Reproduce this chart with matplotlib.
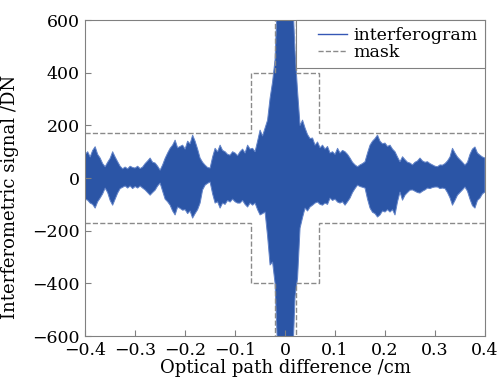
import numpy as np
import matplotlib
matplotlib.use("Agg")
import matplotlib.pyplot as plt
from matplotlib.lines import Line2D
from matplotlib.legend_handler import HandlerLine2D

plt.rcParams['font.family'] = ['DejaVu Serif']

# envelope of the interferogram, every 0.005 cm from -0.4 to 0.4
opd = np.round(np.arange(-0.400, 0.4001, 0.005), 3)
sig_top = [90, 100, 80, 105, 119, 90, 76, 55, 43, 60,
           75, 100, 80, 62, 45, 35, 42, 35, 45, 40,
           38, 45, 36, 42, 55, 65, 76, 60, 57, 45,
           30, 50, 75, 95, 113, 125, 144, 115, 120, 125,
           110, 140, 130, 163, 140, 110, 76, 60, 49, 40,
           38, 80, 113, 100, 125, 105, 100, 90, 87, 100,
           95, 85, 100, 110, 95, 125, 110, 113, 100, 140,
           182, 160, 190, 220, 303, 365, 450, 700, 800, 900,
           900, 900, 800, 700, 480, 330, 200, 220, 190, 165,
           150, 152, 125, 137, 115, 125, 110, 120, 95, 100,
           90, 113, 95, 105, 100, 90, 76, 60, 50, 43,
           50, 55, 62, 95, 125, 140, 150, 163, 140, 130,
           133, 120, 125, 110, 100, 80, 62, 81, 70, 60,
           57, 50, 60, 65, 76, 65, 60, 62, 55, 50,
           45, 43, 50, 49, 55, 65, 80, 113, 95, 80,
           70, 60, 49, 60, 90, 110, 118, 95, 87, 80,
           76]
sig_bot = [-80, -84, -95, -100, -114, -90, -76, -60, -38, -55,
           -85, -103, -80, -57, -40, -35, -30, -38, -30, -40,
           -32, -38, -30, -38, -45, -55, -65, -55, -46, -30,
           -19, -50, -80, -90, -103, -125, -140, -110, -115, -122,
           -120, -135, -125, -152, -135, -120, -95, -45, -27, -20,
           -15, -60, -95, -90, -114, -95, -100, -85, -91, -80,
           -90, -95, -95, -85, -100, -110, -95, -103, -95, -120,
           -140, -135, -129, -220, -330, -319, -400, -650, -800, -900,
           -900, -900, -800, -700, -450, -380, -190, -150, -114, -125,
           -110, -103, -95, -91, -100, -103, -95, -100, -76, -85,
           -80, -91, -95, -90, -103, -90, -76, -55, -40, -27,
           -32, -35, -38, -80, -114, -130, -135, -148, -140, -125,
           -129, -120, -129, -120, -140, -90, -53, -84, -65, -55,
           -46, -45, -50, -55, -57, -50, -45, -38, -40, -36,
           -34, -34, -40, -38, -40, -55, -75, -103, -85, -65,
           -55, -45, -34, -50, -80, -105, -114, -85, -76, -60,
           -53]

# mask steps
mask_edges = [-0.4, -0.068, -0.021, 0.021, 0.068, 0.4]
mask_levels = [170, 400, 1000, 400, 170]

fig = plt.figure(figsize=(5.01, 3.85), dpi=100)
ax = fig.add_axes([0.170, 0.127, 0.798, 0.821])

ax.fill_between(opd, sig_bot, sig_top, color='#2b55a6', lw=0.7, edgecolor='#6283c8')
ax.stairs(mask_levels, mask_edges, baseline=None, color='#8a8a8a', ls='--', lw=1.0)
ax.stairs([-v for v in mask_levels], mask_edges, baseline=None, color='#8a8a8a', ls='--', lw=1.0)

ax.set_xlim(-0.4, 0.4)
ax.set_ylim(-600, 600)
ax.set_xticks(np.arange(-0.4, 0.41, 0.1))
ax.set_xticklabels(['\u22120.4', '\u22120.3', '\u22120.2', '\u22120.1', '0', '0.1', '0.2', '0.3', '0.4'])
ax.set_yticks(np.arange(-600, 601, 200))
ax.set_yticklabels(['\u2212600', '\u2212400', '\u2212200', '0', '200', '400', '600'])
ax.tick_params(direction='in', length=4, width=0.8, color='#808080', labelsize=12.5)
ax.tick_params(axis='x', pad=4)
ax.tick_params(axis='y', pad=4)
for s in ax.spines.values():
    s.set_color('#808080')
    s.set_linewidth(0.8)

ax.set_xlabel('Optical path difference /cm', fontsize=13, labelpad=0)
ax.set_ylabel('Interferometric signal /DN', fontsize=13)
ax.yaxis.set_label_coords(-0.165, 0.44)

handles = [Line2D([], [], color='#3557b5', lw=1.0),
           Line2D([], [], color='#8a8a8a', ls='--', lw=1.0)]
leg = ax.legend(handles, ['interferogram', 'mask'], loc='upper right', fontsize=12.5,
                borderaxespad=0, handlelength=2.5, handletextpad=0.4, borderpad=0.4,
                labelspacing=0.0, fancybox=False, framealpha=1, edgecolor='#808080',
                handler_map={Line2D: HandlerLine2D(xpad=0.85)})
leg.get_frame().set_linewidth(0.8)

fig.savefig('out.png', dpi=100)
